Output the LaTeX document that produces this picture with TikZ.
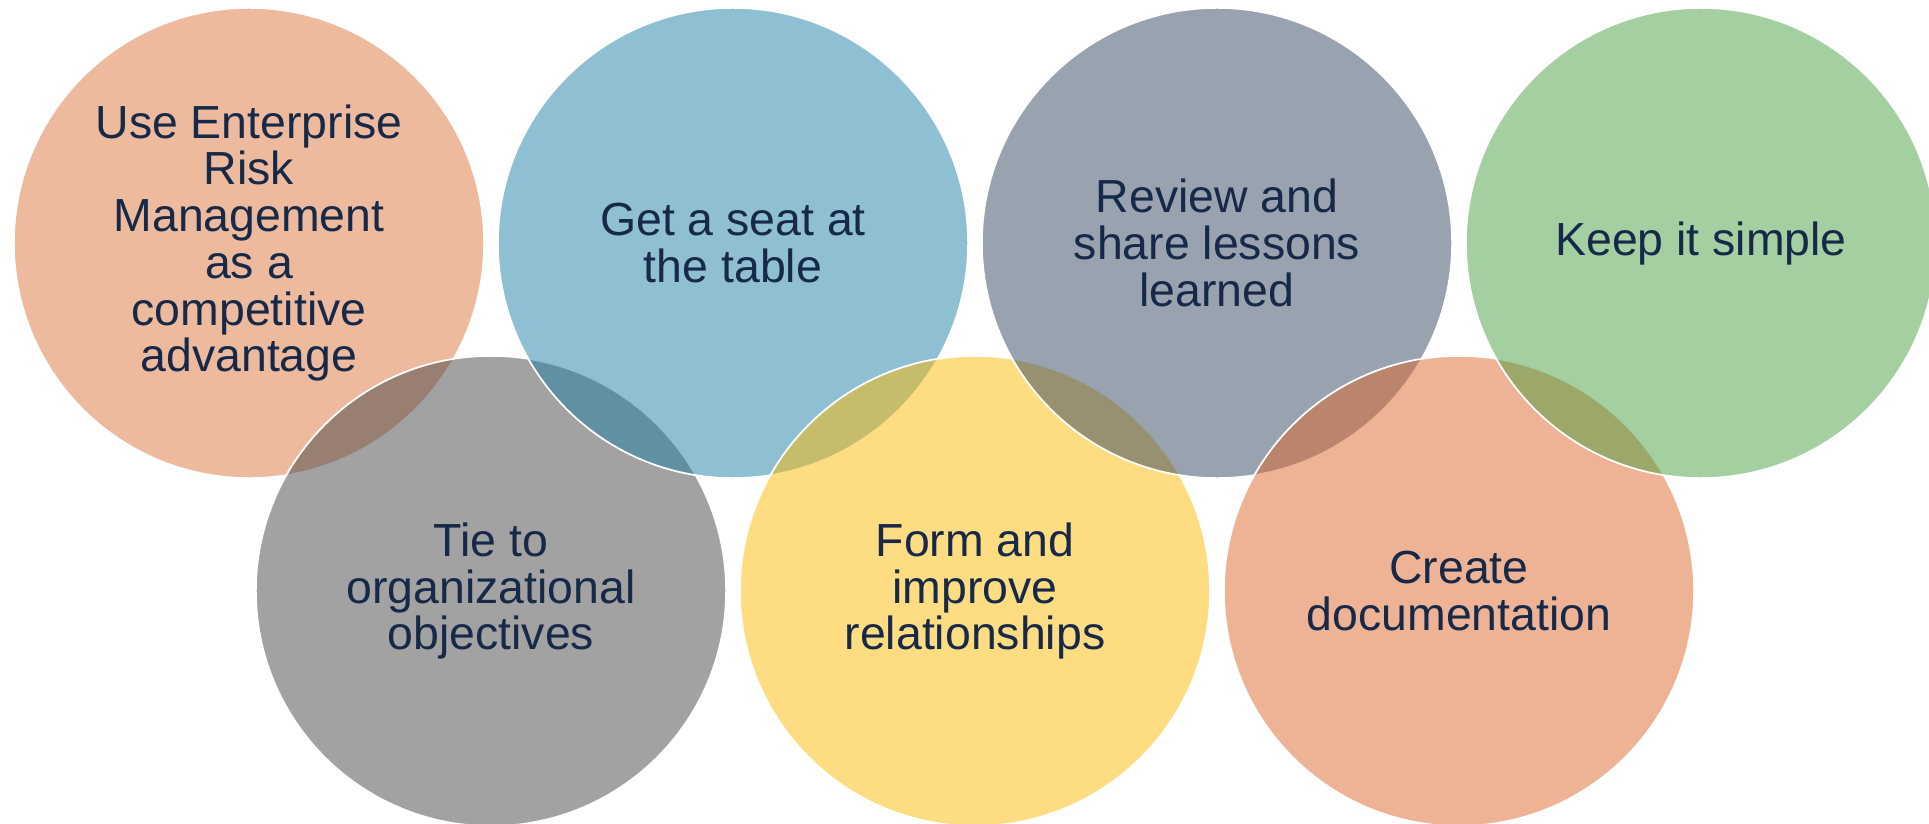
\documentclass[tikz,border=0pt]{standalone}
\usepackage{fontspec}
\setmainfont{Liberation Sans}

% base colours, shown at half opacity
\definecolor{ermfill}{RGB}{219,117,61}
\definecolor{tiefill}{RGB}{69,69,69}
\definecolor{seatfill}{RGB}{31,127,167}
\definecolor{relfill}{RGB}{253,187,5}
\definecolor{lessonsfill}{RGB}{51,71,97}
\definecolor{docsfill}{RGB}{221,103,43}
\definecolor{simplefill}{RGB}{73,159,65}
\definecolor{labeltext}{RGB}{22,41,72}

\tikzset{bubble/.style={circle, minimum size=4.7cm, inner sep=0pt,
    draw=white, line width=0.5pt, fill opacity=0.5, text opacity=1,
    text=labeltext, align=center, font=\fontsize{13.2}{13.3}\selectfont}}

\begin{document}
\begin{tikzpicture}[x=0.01cm, y=-0.01cm]
\useasboundingbox (0,0) rectangle (1929,824);
% top and bottom row, drawn in turn so each one lies over the last
\node[bubble, fill=ermfill] (erm) at (249,243){Use Enterprise\\Risk\\Management\\as a\\competitive\\advantage};
\node[bubble, fill=tiefill] (tie) at (491,591){Tie to\\organizational\\objectives};
\node[bubble, fill=seatfill] (seat) at (733,243){Get a seat at\\the table};
\node[bubble, fill=relfill] (rel) at (975,591){Form and\\improve\\relationships};
\node[bubble, fill=lessonsfill] (lessons) at (1217,243){Review and\\share lessons\\learned};
\node[bubble, fill=docsfill] (docs) at (1459,591){Create\\documentation};
\node[bubble, fill=simplefill] (simple) at (1701,243){Keep it simple};
\end{tikzpicture}
\end{document}
